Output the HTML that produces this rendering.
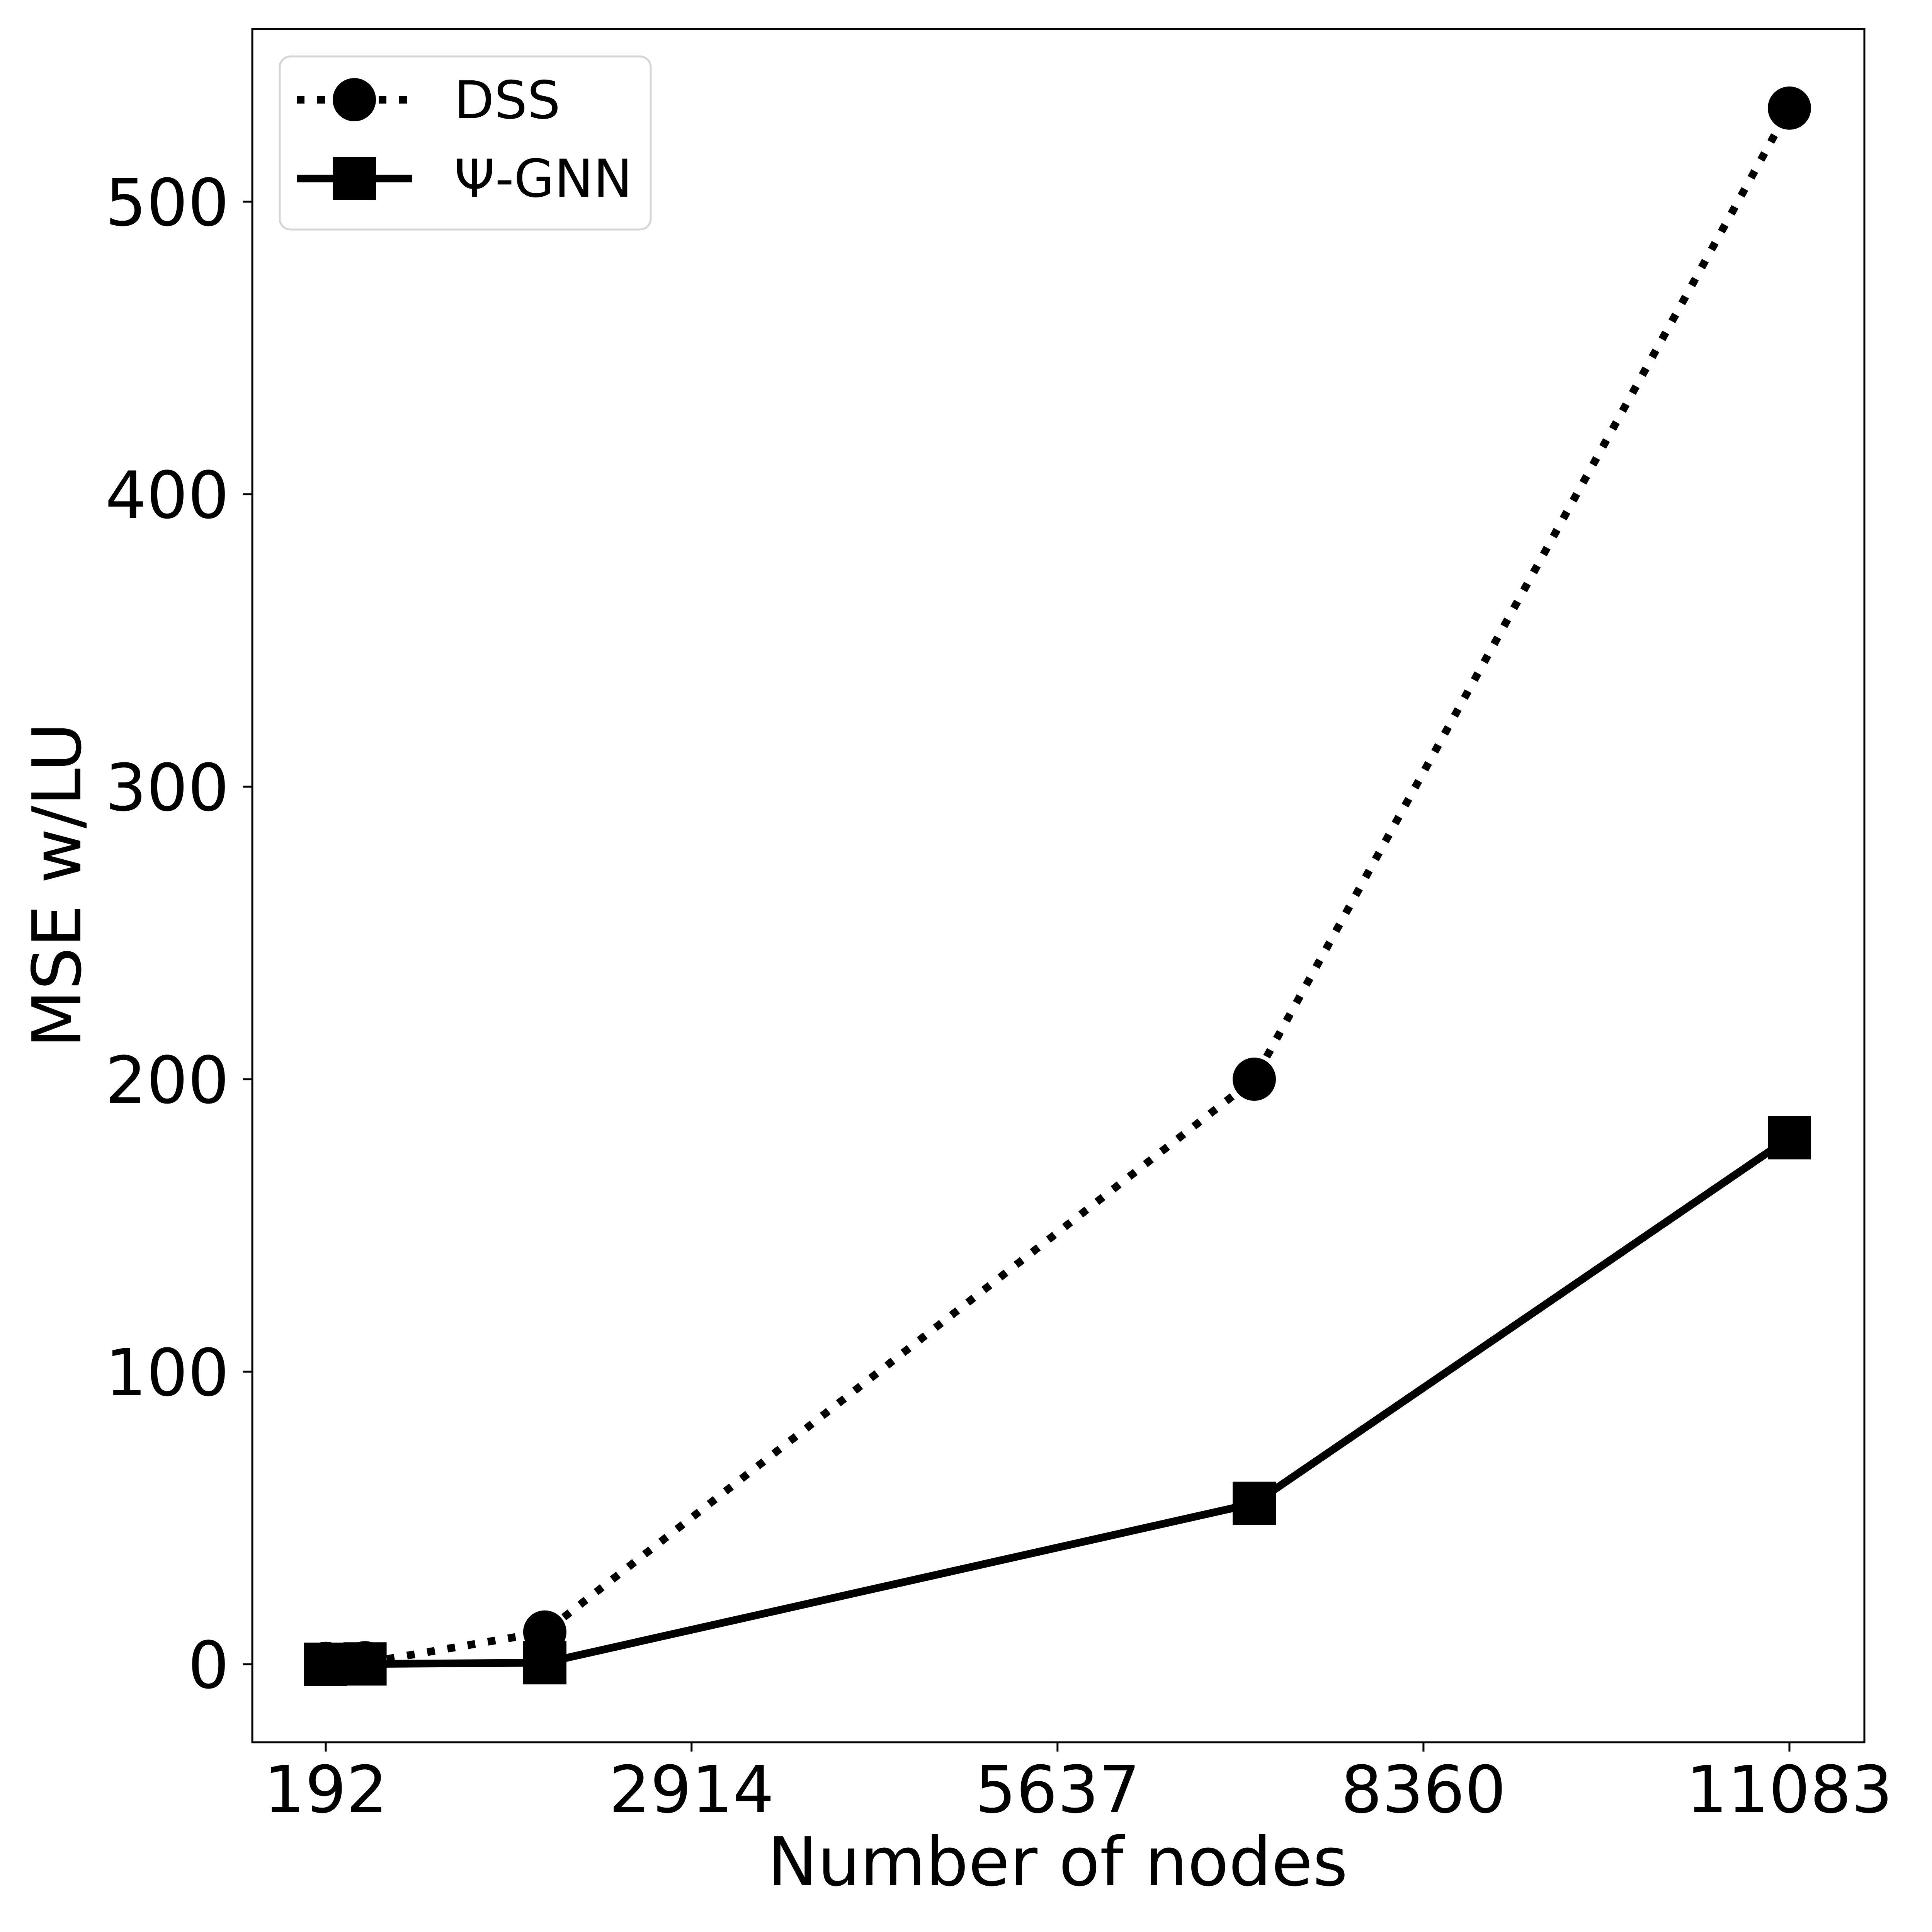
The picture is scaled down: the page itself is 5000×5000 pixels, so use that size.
<!DOCTYPE html>
<html><head><meta charset="utf-8"><style>
html,body{margin:0;padding:0;background:#fff;}
svg{display:block;font-family:"DejaVu Sans","Liberation Sans",sans-serif;}
</style></head><body>
<svg id="chart" width="5000" height="5000" viewBox="0 0 5000 5000" xmlns="http://www.w3.org/2000/svg">
<rect x="0" y="0" width="5000" height="5000" fill="#fff"/>
<g id="plot"></g>
<text transform="rotate(-90 208 2291)" font-size="174" text-anchor="middle"><tspan x="208" y="2291">MSE w/LU</tspan></text>
<text x="2737" y="4879" font-size="174" text-anchor="middle">Number of nodes</text>
<g>
<rect x="724" y="146" width="960" height="448" rx="28" fill="#fff" fill-opacity="0.8" stroke="#d5d5d5" stroke-width="5"/>
<g>
<line x1="768" y1="258" x2="1067" y2="258" stroke="#000" stroke-width="20" stroke-dasharray="20 33"/>
<circle cx="917" cy="258" r="56" fill="#000"/>
<text x="1175" y="306" font-size="135">DSS</text>
</g>
<g>
<line x1="768" y1="462" x2="1067" y2="462" stroke="#000" stroke-width="20"/>
<rect x="861" y="406" width="112" height="112" fill="#000"/>
<text x="1175" y="509" font-size="135">Ψ-GNN</text>
</g>
</g>
</svg>
<script>
const xTicks = [192, 2914, 5637, 8360, 11083];
const xTickLabels = ["192", "2914", "5637", "8360", "11083"];
const yTicks = [0, 100, 200, 300, 400, 500];
const yTickLabels = ["0", "100", "200", "300", "400", "500"];
const nodes = [192, 484, 1822, 7101, 11083];
const dssValues = [0.3, 0.5, 11, 200, 532];
const gnnValues = [0, 0.1, 0.5, 55, 180];

const NS = "http://www.w3.org/2000/svg";
const L = 653, R = 4825, T = 75, B = 4509;
function xs(v){ return 843 + (v - 192) * (4631 - 843) / (11083 - 192); }
function ys(v){ return 4307 - v * 7.57; }
const plot = document.getElementById('plot');
function mk(tag, attrs, parent){
  const e = document.createElementNS(NS, tag);
  for (const k in attrs) e.setAttribute(k, attrs[k]);
  (parent || plot).appendChild(e);
  return e;
}
xTicks.forEach((t, i) => {
  const tk = mk('line', {x1: xs(t), x2: xs(t), y1: B, y2: B + 24, stroke: '#000', 'stroke-width': 5});
  
  
  const lb = mk('text', {x: xs(t), y: 4690, 'font-size': 168, 'text-anchor': 'middle'});
  lb.textContent = xTickLabels[i];
  
  
});
yTicks.forEach((t, i) => {
  const tk = mk('line', {x1: L - 24, x2: L, y1: ys(t), y2: ys(t), stroke: '#000', 'stroke-width': 5});
  
  
  const lb = mk('text', {x: 593, y: ys(t) + 61, 'font-size': 168, 'text-anchor': 'end'});
  lb.textContent = yTickLabels[i];
  
  
});
const dssLine = mk('polyline', {points: nodes.map((n, i) => xs(n) + ',' + ys(dssValues[i])).join(' '), fill: 'none', stroke: '#000', 'stroke-width': 20, 'stroke-dasharray': '20 33'});


const gnnLine = mk('polyline', {points: nodes.map((n, i) => xs(n) + ',' + ys(gnnValues[i])).join(' '), fill: 'none', stroke: '#000', 'stroke-width': 20, 'stroke-linejoin': 'round'});


nodes.forEach((n, i) => {
  const c = mk('circle', {cx: xs(n), cy: ys(dssValues[i]), r: 56, fill: '#000'});
  
  
});
nodes.forEach((n, i) => {
  const s = mk('rect', {x: xs(n) - 56, y: ys(gnnValues[i]) - 56, width: 112, height: 112, fill: '#000'});
  
  
});
const fr = mk('rect', {x: L, y: T, width: R - L, height: B - T, fill: 'none', stroke: '#000', 'stroke-width': 5});


</script>
</body></html>
